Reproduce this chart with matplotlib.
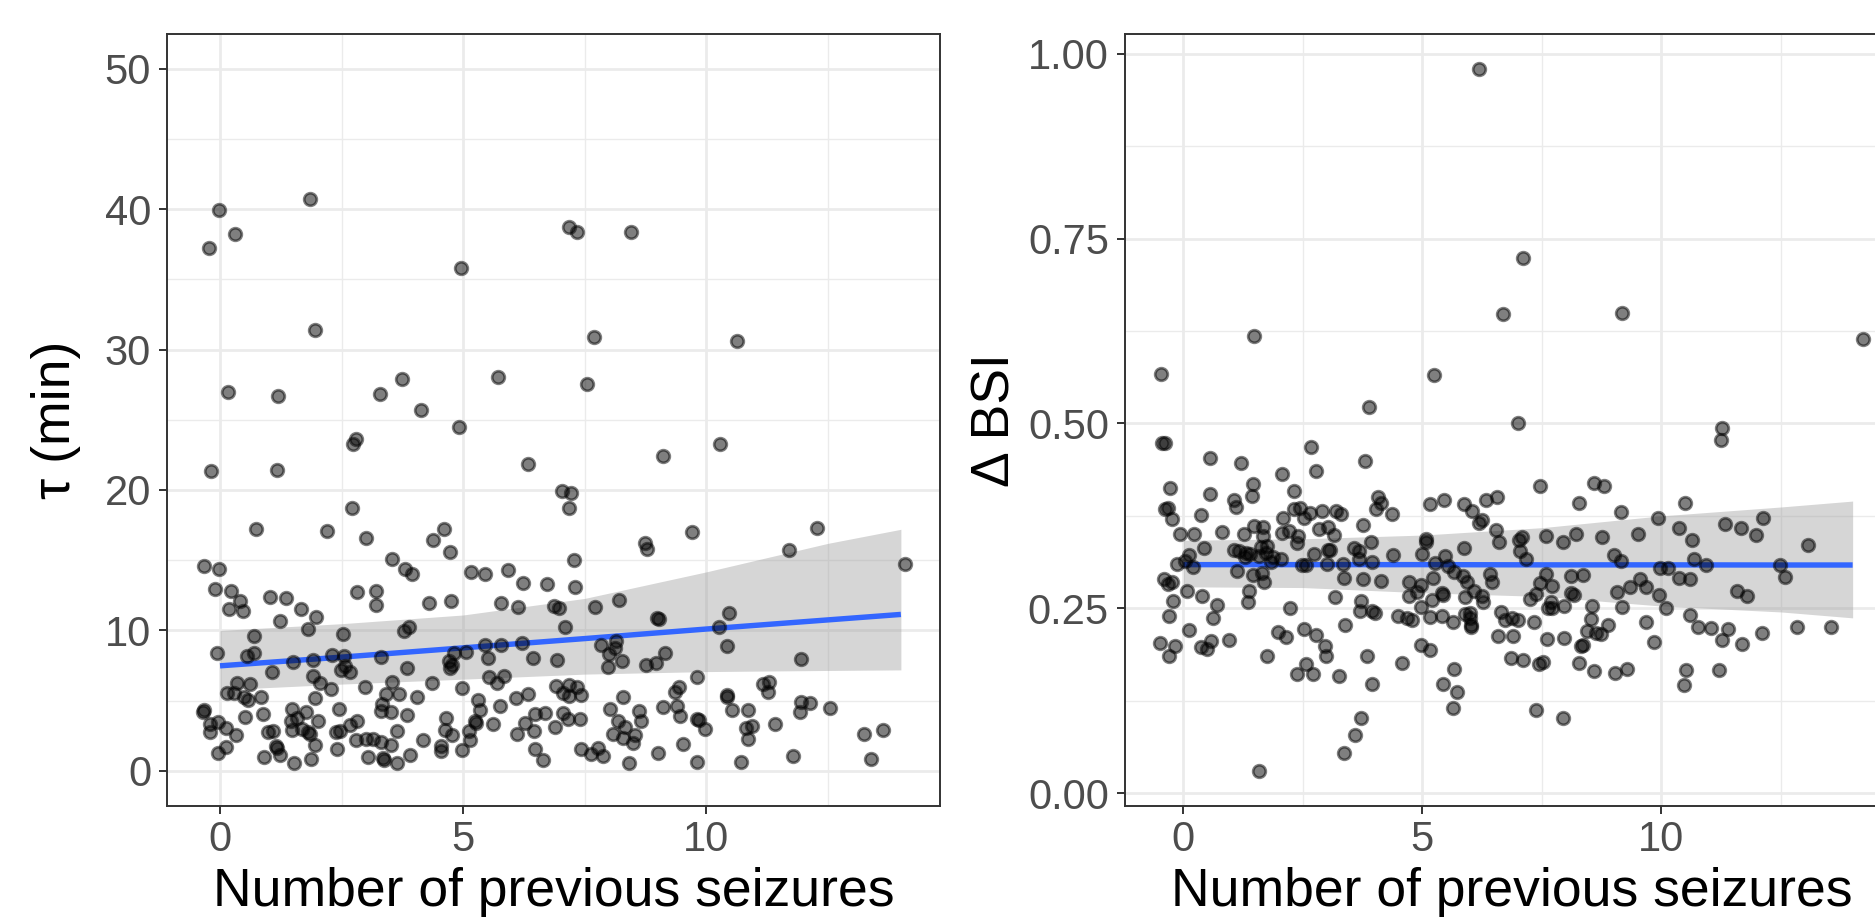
import numpy as np
import matplotlib
matplotlib.use("Agg")
import matplotlib.pyplot as plt
from matplotlib.ticker import FixedLocator

plt.rcParams['font.family'] = ['Liberation Sans', 'DejaVu Sans']

# ---------------- data: left panel (tau, jittered x) ----------------
tau_x = [1.86, -0.02, 0.30, -0.22, 7.18, 7.33, 8.46, 4.95, 1.96, 7.68, 10.64, 0.16, 1.19, 3.74, 3.29, 5.72,
         7.54, 4.14, 4.91, 2.79, 2.73, -0.18, 1.18, 6.33, 9.11, 10.28, 7.04, 7.22, 7.18, 2.72, 0.75, 2.20,
         3.0, 4.6, 4.37, 4.73, 8.74, 8.77, 9.70, 12.28, 11.69,
         -0.33, -0.02, 3.53, 3.80, 3.95, -0.10, 0.22, 0.42, 0.19, 0.48, 1.02, 1.35, 1.67, 1.98, 1.23, 1.81,
         2.81, 3.2, 3.2, 4.29, 0.69, -0.07, 0.55, 0.70, 1.07, 1.5, 1.92, 2.52, 2.31, 2.55, 2.56, 2.48, 2.68,
         1.92, 2.05, 2.29, 3.3, 3.79, 3.89, 3.85, 0.35, 0.61, 0.14, 0.29, 0.5, 0.58, 0.85, 1.95, 2.98, 3.54,
         3.41, 3.69, 4.04, 4.36, -0.33, -0.36, 0.51, 0.88, 1.48, 1.76, 2.45, 2.01, 1.46, 1.59, 3.34, 3.3,
         3.52, 3.85, -0.2, -0.04, -0.2, 0.13, 0.33, 0.98, 1.09, 1.49, 1.69, 1.8, 1.84, 2.38, 2.47, 2.67,
         2.82, 2.79, 3.01, 3.15, 3.3, 3.52, 3.63, 4.17, 0.12, -0.05, 1.15, 1.17, 1.23, 1.96, 2.41, 0.91,
         1.53, 1.88, 3.05, 3.35, 3.38, 3.63, 3.9,
         7.27, 5.17, 5.44, 5.92, 6.22, 6.72, 7.3, 4.74, 5.78, 6.125, 6.86, 6.98, 7.7, 8.21, 8.99, 9.03, 7.1,
         4.81, 5.06, 5.44, 5.78, 6.2, 5.52, 6.43, 6.92, 7.83, 8.15, 8.13, 8.0, 8.26, 7.97, 8.76, 8.97, 9.14,
         4.7, 4.77, 4.73, 5.54, 5.69, 5.83, 4.98, 6.91, 7.06, 7.18, 7.33, 7.42, 7.18, 5.31, 5.34, 5.76, 6.08,
         6.33, 8.29, 9.43, 9.36, 4.65, 4.62, 4.76, 5.24, 5.26, 5.12, 5.14, 5.61, 6.27, 6.47, 6.69, 6.45,
         6.10, 6.88, 7.05, 7.16, 7.4, 8.01, 8.19, 8.33, 8.09, 8.28, 8.53, 8.5, 8.61, 8.66, 9.11, 9.39, 9.46,
         4.55, 4.55, 4.98, 6.47, 6.64, 7.42, 7.62, 7.78, 7.87, 8.41, 9.01, 9.52,
         14.08, 10.46, 10.27, 10.42, 11.95, 9.8, 10.42, 10.42, 11.17, 11.28, 11.26, 10.53, 10.85, 11.95,
         12.14, 11.92, 12.55, 9.81, 9.85, 9.97, 10.81, 10.93, 10.85, 11.41, 9.81, 10.72, 11.78, 13.24,
         13.63, 13.39]
tau_y = [40.7, 39.9, 38.2, 37.2, 38.7, 38.4, 38.4, 35.8, 31.4, 30.9, 30.6, 27.0, 26.7, 27.9, 26.8, 28.06,
         27.56, 25.7, 24.5, 23.65, 23.25, 21.33, 21.4, 21.85, 22.4, 23.3, 19.95, 19.8, 18.7, 18.7, 17.2, 17.06,
         16.56, 17.25, 16.47, 15.6, 16.2, 15.8, 17.0, 17.3, 15.7,
         14.6, 14.36, 15.12, 14.36, 14.0, 12.92, 12.8, 12.1, 11.52, 11.36, 12.4, 12.33, 11.55, 10.98, 10.65,
         10.1, 12.75, 12.8, 11.78, 11.92, 9.6, 8.4, 8.21, 8.4, 7.03, 7.74, 7.9, 9.72, 8.23, 8.2, 7.5, 7.15,
         7.03, 6.77, 6.25, 5.85, 8.1, 9.96, 10.27, 7.29, 6.27, 6.22, 5.51, 5.51, 5.23, 5.04, 5.28, 5.18,
         5.94, 6.36, 5.47, 5.47, 5.25, 6.25, 4.33, 4.17, 3.83, 4.05, 4.38, 4.21, 4.43, 3.53, 3.55, 3.74,
         4.76, 4.28, 4.17, 3.98, 3.34, 3.48, 2.79, 3.08, 2.58, 2.75, 2.82, 2.93, 3.0, 2.77, 2.6, 2.75, 2.82,
         3.27, 3.53, 2.22, 2.3, 2.27, 2.08, 1.85, 2.86, 2.22, 1.7, 1.28, 1.78, 1.63, 1.14, 1.82, 1.54, 1.02,
         0.57, 0.83, 1.02, 0.92, 0.76, 0.55, 1.11,
         15.05, 14.17, 14.0, 14.3, 13.4, 13.34, 13.1, 12.1, 11.97, 11.7, 11.76, 11.62, 11.66, 12.14, 10.9,
         10.84, 10.24, 8.4, 8.45, 8.97, 8.94, 9.13, 8.02, 8.07, 7.9, 8.97, 9.25, 8.78, 8.35, 7.83, 7.4, 7.55,
         7.67, 8.4, 7.8, 7.55, 7.3, 6.65, 6.29, 6.79, 5.9, 6.06, 5.58, 6.13, 5.99, 5.42, 5.35, 5.06, 4.33,
         4.59, 5.16, 5.44, 5.25, 5.96, 5.63, 3.76, 2.89, 2.58, 3.53, 3.4, 2.86, 2.22, 3.36, 3.41, 4.05, 4.14,
         2.86, 2.65, 3.12, 4.12, 3.69, 3.69, 4.43, 3.53, 3.12, 2.65, 2.32, 2.58, 1.99, 4.26, 3.57, 4.52,
         4.64, 3.9, 1.8, 1.4, 1.49, 1.54, 0.76, 1.59, 1.18, 1.63, 1.09, 0.57, 1.28, 1.92,
         14.72, 11.21, 10.27, 8.9, 7.97, 6.67, 5.42, 5.23, 6.2, 6.36, 5.65, 4.31, 4.35, 4.94, 4.8, 4.19,
         4.45, 3.66, 3.59, 2.96, 3.03, 3.2, 2.3, 3.34, 0.64, 0.62, 1.09, 2.65, 2.91, 0.83]

# ---------------- data: right panel (delta BSI, jittered x) ----------------
bsi_x = [6.19, 7.10, 6.69, 9.17, 1.47, 14.21, -0.47, 5.24, 3.88,
         -0.44, -0.39, 0.56, 1.21, 2.67, 3.79, 2.07, 2.78, -0.27, 0.56, 1.45, 1.44, 2.32, -0.38, -0.33,
         -0.23, 0.36, 1.05, 1.1, -0.07, 0.23, 0.8, 1.27, 1.48, 1.66, 1.67, 2.09, 2.06, 2.2, 2.31, 2.43,
         2.53, 2.64, 2.39, 2.37, 2.89, 2.84, 3.03, 3.15, 3.2, 3.3, 3.76, 3.93, 4.07, 4.04, 4.13,
         0.43, 0.12, 0.04, 0.2, -0.14, 1.06, 1.17, 1.32, 1.39, 1.29, 1.58, 1.76, 1.72, 1.62, 1.83, 1.87,
         2.05, 1.12, 1.46, 1.65, 1.69, 2.49, 2.56, 2.74, 3.02, 3.06, 3.0, 3.33, 3.56, 3.67, 3.67, 3.95,
         3.37, 3.76, 4.14, -0.4, -0.33, -0.23, -0.22, 0.07, 0.4, 0.7, 0.62, -0.3, 0.11, 1.37, 1.35, 2.23,
         3.17, 3.72, 3.69, 3.95, 4.01, -0.48, -0.17, -0.31, 0.37, 0.50, 0.58, 0.95, 1.97, 2.14, 1.74, 2.52,
         2.78, 2.97, 2.99, 3.39, 3.85, 2.57, 2.38, 2.71, 3.26, 3.95, 3.72, 3.6, 3.37, 1.58,
         7.0, 7.46, 8.58, 8.79, 8.27, 9.15, 5.16, 5.45, 5.87, 6.03, 6.34, 6.56, 6.18, 6.24, 4.36, 6.54, 6.6,
         5.07, 5.07, 5.88, 7.03, 7.09, 7.05, 7.16, 7.59, 7.94, 8.22, 8.75, 4.38, 4.997, 5.48, 5.27, 5.53,
         5.66, 5.23, 4.73, 4.97, 4.73, 4.89, 5.4, 5.43, 5.21, 4.98, 5.85, 5.93, 6.08, 5.9, 6.25, 6.26, 6.41,
         6.45, 7.58, 7.46, 7.72, 8.1, 8.35, 8.1, 8.17, 7.25, 7.37, 7.69, 7.63, 7.72, 7.96, 9.0, 9.16, 9.07,
         9.18, 8.55, 8.52, 8.88, 8.45, 8.63, 8.73, 8.31, 8.35, 8.27, 8.59, 9.02, 4.5, 4.68, 4.79, 5.15,
         5.41, 5.64, 5.9, 5.99, 6.0, 6.01, 6.01, 6.65, 6.73, 6.87, 7.0, 7.33, 6.59, 6.9, 7.6, 7.96, 4.98,
         5.15, 4.58, 6.85, 7.1, 7.44, 7.52, 5.67, 5.43, 5.73, 5.65, 7.38, 7.94, 9.28,
         11.27, 11.24, 10.5, 9.92, 9.51, 10.36, 10.65, 11.34, 11.67, 11.98, 12.13, 13.07, 10.68, 9.98,
         10.14, 10.94, 10.37, 10.59, 9.55, 9.34, 9.67, 9.95, 10.1, 11.59, 11.79, 12.47, 12.59, 9.68, 9.84,
         10.59, 10.76, 11.03, 11.4, 11.26, 11.69, 12.11, 12.84, 13.55, 10.51, 10.47, 11.21]
bsi_y = [0.980, 0.724, 0.648, 0.649, 0.618, 0.614, 0.567, 0.565, 0.522,
         0.474, 0.474, 0.453, 0.446, 0.468, 0.449, 0.432, 0.435, 0.412, 0.404, 0.418, 0.402, 0.409, 0.384,
         0.386, 0.371, 0.376, 0.396, 0.387, 0.351, 0.351, 0.353, 0.351, 0.361, 0.36, 0.348, 0.372, 0.352,
         0.355, 0.384, 0.385, 0.372, 0.379, 0.348, 0.338, 0.382, 0.357, 0.36, 0.349, 0.382, 0.378, 0.362,
         0.34, 0.4, 0.384, 0.393,
         0.331, 0.322, 0.314, 0.306, 0.31, 0.329, 0.327, 0.325, 0.323, 0.32, 0.321, 0.334, 0.325, 0.333,
         0.312, 0.32, 0.317, 0.3, 0.295, 0.298, 0.286, 0.309, 0.309, 0.323, 0.329, 0.329, 0.31, 0.31, 0.331,
         0.327, 0.316, 0.312, 0.291, 0.289, 0.287, 0.289, 0.283, 0.285, 0.26, 0.273, 0.267, 0.255, 0.237,
         0.24, 0.221, 0.273, 0.259, 0.251, 0.265, 0.26, 0.246, 0.246, 0.243, 0.203, 0.199, 0.186, 0.197,
         0.195, 0.206, 0.207, 0.218, 0.211, 0.186, 0.222, 0.214, 0.199, 0.186, 0.227, 0.185, 0.174, 0.161,
         0.161, 0.158, 0.147, 0.101, 0.078, 0.054, 0.030,
         0.501, 0.416, 0.42, 0.415, 0.393, 0.38, 0.391, 0.396, 0.391, 0.381, 0.397, 0.4, 0.366, 0.369, 0.377,
         0.356, 0.34, 0.344, 0.339, 0.331, 0.343, 0.347, 0.327, 0.317, 0.348, 0.34, 0.351, 0.346, 0.322,
         0.323, 0.321, 0.311, 0.307, 0.299, 0.291, 0.286, 0.282, 0.267, 0.272, 0.27, 0.268, 0.261, 0.252,
         0.293, 0.285, 0.273, 0.265, 0.267, 0.259, 0.296, 0.285, 0.296, 0.284, 0.28, 0.294, 0.295, 0.27,
         0.268, 0.263, 0.269, 0.259, 0.25, 0.251, 0.253, 0.322, 0.314, 0.272, 0.252, 0.253, 0.236, 0.228,
         0.219, 0.216, 0.215, 0.199, 0.2, 0.176, 0.165, 0.163, 0.24, 0.237, 0.234, 0.238, 0.24, 0.231,
         0.242, 0.244, 0.237, 0.224, 0.228, 0.245, 0.234, 0.237, 0.234, 0.232, 0.213, 0.212, 0.209, 0.21,
         0.2, 0.194, 0.176, 0.183, 0.18, 0.174, 0.177, 0.168, 0.148, 0.137, 0.115, 0.113, 0.101, 0.168,
         0.494, 0.478, 0.392, 0.372, 0.351, 0.358, 0.342, 0.364, 0.358, 0.349, 0.372, 0.335, 0.317, 0.305,
         0.304, 0.308, 0.291, 0.289, 0.289, 0.279, 0.279, 0.268, 0.25, 0.273, 0.266, 0.308, 0.292, 0.232,
         0.205, 0.241, 0.225, 0.223, 0.222, 0.207, 0.201, 0.216, 0.225, 0.225, 0.167, 0.146, 0.167]

# ---------------- model trend + confidence band ----------------
fit_x = [0, 2.5, 5, 7.5, 10, 12.5, 14]
tau_fit = [7.48, 8.10, 8.76, 9.42, 10.10, 10.75, 11.14]
tau_lo = [5.77, 6.18, 6.53, 6.89, 7.07, 7.15, 7.19]
tau_hi = [10.00, 10.48, 11.10, 12.28, 14.17, 16.20, 17.20]
bsi_fit = [0.309, 0.309, 0.309, 0.3087, 0.3087, 0.3085, 0.3085]
bsi_lo = [0.279, 0.278, 0.271, 0.266, 0.253, 0.245, 0.237]
bsi_hi = [0.342, 0.344, 0.349, 0.359, 0.375, 0.387, 0.395]

x_label = "Number of previous seizures"
tau_label = "τ (min)"
bsi_label = "Δ BSI"
tau_ylim = (0, 50)

# ---------------- style ----------------
FIG_W, FIG_H = 1875, 918
TICK_FS = 30
TITLE_FS = 38.5
BLUE = "#3366FF"
GRID = "#EBEBEB"
BORDER = "#333333"
TICKLAB = "#4D4D4D"


def expand(lo, hi, f=0.05):
    r = hi - lo
    return lo - f * r, hi + f * r


def style_axis(ax, xmaj, xmin_, ymaj, ymin_, yfmt):
    ax.set_facecolor("white")
    ax.xaxis.set_major_locator(FixedLocator(xmaj))
    ax.xaxis.set_minor_locator(FixedLocator(xmin_))
    ax.yaxis.set_major_locator(FixedLocator(ymaj))
    ax.yaxis.set_minor_locator(FixedLocator(ymin_))
    ax.set_yticklabels([yfmt(v) for v in ymaj])
    ax.set_xticklabels([str(v) for v in xmaj])
    ax.grid(True, which="major", color=GRID, linewidth=2.0, zorder=0)
    ax.grid(True, which="minor", color=GRID, linewidth=1.0, zorder=0)
    ax.set_axisbelow(True)
    for s in ax.spines.values():
        s.set_color(BORDER)
        s.set_linewidth(1.4)
    ax.tick_params(which="major", direction="out", length=5.8, width=1.4, color=BORDER,
                   labelsize=TICK_FS, labelcolor=TICKLAB)
    ax.tick_params(axis="x", which="major", pad=4.5)
    ax.tick_params(axis="y", which="major", pad=6.0)
    ax.tick_params(which="minor", length=0)


def draw_panel(ax, xj, y, fx, fmid, flo, fhi, ylim=None):
    xj = np.asarray(xj, float)
    y = np.asarray(y, float)
    ax.fill_between(fx, flo, fhi, color="#999999", alpha=0.4, linewidth=0, zorder=2)
    ax.plot(fx, fmid, color=BLUE, linewidth=3.9, zorder=3, solid_capstyle="butt")
    ax.scatter(xj, y, s=82, facecolor=(0, 0, 0, 0.5), edgecolor=(0, 0, 0, 0.5),
               linewidths=2.0, zorder=4)
    ax.set_xlim(*expand(xj.min(), xj.max()))
    if ylim is None:
        ax.set_ylim(*expand(y.min(), y.max()))
    else:
        ax.set_ylim(*expand(*ylim))


fig = plt.figure(figsize=(FIG_W / 100, FIG_H / 100), dpi=100)
ax_w = 772.5 / FIG_W
ax_h = 772.5 / FIG_H
ax_b = (FIG_H - 806) / FIG_H
ax1 = fig.add_axes([167.4 / FIG_W, ax_b, ax_w, ax_h])
ax2 = fig.add_axes([1125.3 / FIG_W, ax_b, ax_w, ax_h])

draw_panel(ax1, tau_x, tau_y, fit_x, tau_fit, tau_lo, tau_hi, ylim=tau_ylim)
style_axis(ax1, [0, 5, 10], [2.5, 7.5, 12.5], [0, 10, 20, 30, 40, 50],
           [5, 15, 25, 35, 45], lambda v: f"{v:g}")

draw_panel(ax2, bsi_x, bsi_y, fit_x, bsi_fit, bsi_lo, bsi_hi)
style_axis(ax2, [0, 5, 10, 15], [2.5, 7.5, 12.5], [0, 0.25, 0.5, 0.75, 1.0],
           [0.125, 0.375, 0.625, 0.875], lambda v: f"{v:.2f}")

for ax, ylab, ybase in ((ax1, tau_label, (70 - 167.4) / 772.5), (ax2, bsi_label, (1010 - 1125.3) / 772.5)):
    ax.set_xlabel(x_label, fontsize=TITLE_FS, color="black", va="baseline")
    ax.xaxis.set_label_coords(0.5, (806 - 906) / 772.5)
    ax.set_ylabel(ylab, fontsize=TITLE_FS, color="black", va="baseline")
    ax.yaxis.set_label_coords(ybase, 0.5)

fig.savefig("out.png", dpi=100, facecolor="white")
